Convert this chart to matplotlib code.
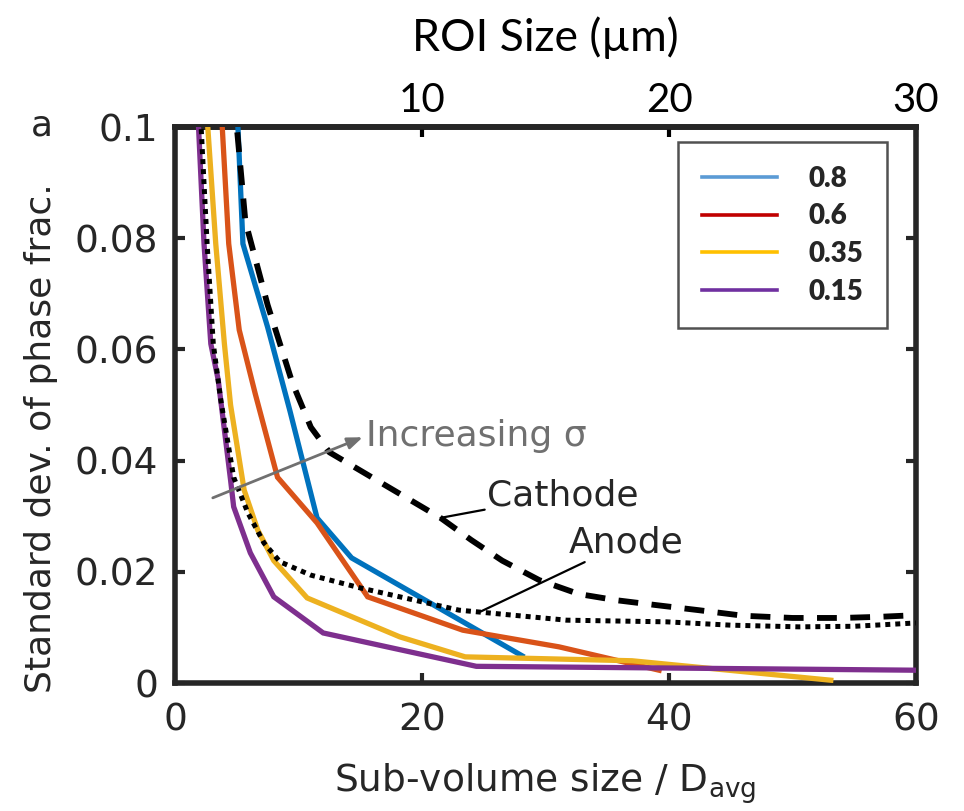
import matplotlib
matplotlib.use("Agg")
import matplotlib.pyplot as plt
from matplotlib.lines import Line2D

# ---------------- data ----------------
x_08 = [5.0, 5.5, 7.5, 9.3, 11.5, 14.3, 28.1]
y_08 = [0.105, 0.079, 0.064, 0.049, 0.0297, 0.0225, 0.0049]

x_06 = [3.7, 4.35, 5.2, 6.5, 8.3, 11.5, 15.6, 23.3, 31.1, 39.2]
y_06 = [0.105, 0.079, 0.0635, 0.052, 0.037, 0.0288, 0.0155, 0.0095, 0.0065, 0.0023]

x_035 = [2.5, 3.3, 4.0, 4.5, 5.6, 6.7, 8.0, 10.7, 18.2, 23.5, 37.0, 53.1]
y_035 = [0.105, 0.079, 0.061, 0.050, 0.0347, 0.0275, 0.022, 0.0153, 0.0083, 0.0047, 0.0040, 0.0005]

x_015 = [1.8, 2.35, 2.9, 3.5, 4.5, 4.75, 6.1, 8.0, 12.0, 24.4, 60.0]
y_015 = [0.105, 0.079, 0.061, 0.0545, 0.0365, 0.0317, 0.0234, 0.0155, 0.009, 0.003, 0.0023]

x_cath = [4.8, 5.7, 7.5, 9.5, 11.0, 12.5, 21.5, 24.0, 26.5, 29.5, 32.7, 35.7, 39.0, 42.4, 46.0, 50.0, 54.0, 57.0, 60.0]
y_cath = [0.105, 0.083, 0.068, 0.054, 0.046, 0.0415, 0.0297, 0.0257, 0.022, 0.0185, 0.016, 0.0149, 0.014,
          0.0131, 0.0121, 0.0117, 0.0117, 0.0119, 0.0122]

x_anode = [2.0, 2.6, 3.1, 3.7, 4.75, 5.9, 7.2, 8.5, 11.0, 15.0, 18.2, 23.0, 31.7, 39.8, 45.0, 50.5, 55.0, 60.0]
y_anode = [0.105, 0.079, 0.061, 0.051, 0.037, 0.0306, 0.0252, 0.0218, 0.0194, 0.0171, 0.0155, 0.0131,
           0.0113, 0.011, 0.0104, 0.0101, 0.0102, 0.0108]

legend_labels = ["0.8", "0.6", "0.35", "0.15"]
line_colors = ["#0072BD", "#D95319", "#EDB120", "#7E2F8E"]
legend_colors = ["#5B9BD5", "#C00000", "#FFC000", "#7030A0"]

x_ticks = [0, 20, 40, 60]
y_ticks = [0, 0.02, 0.04, 0.06, 0.08, 0.1]
y_ticklabels = ["0", "0.02", "0.04", "0.06", "0.08", "0.1"]
roi_ticks = [10, 20, 30]

# ---------------- figure ----------------
W, H = 964, 811
fig = plt.figure(figsize=(W / 100, H / 100), dpi=100)
L, R, T, B = 175, 916, 127, 683
ax = fig.add_axes([L / W, 1 - B / H, (R - L) / W, (B - T) / H])

dark = "#262626"
lw = 3.8
dash_style = (0, (3.4, 2.3))
dot_style = (0, (1, 1))

series = [(x_08, y_08), (x_06, y_06), (x_035, y_035), (x_015, y_015)]
for (xs, ys), c in zip(series, line_colors):
    ax.plot(xs, ys, color=c, lw=lw, solid_joinstyle="miter", zorder=3)
ax.plot(x_cath, y_cath, color="black", lw=4.2, linestyle=dash_style, zorder=4)
ax.plot(x_anode, y_anode, color="black", lw=3.6, linestyle=dot_style, zorder=4)

ax.set_xlim(0, 60)
ax.set_ylim(0, 0.1)
ax.set_xticks(x_ticks)
ax.set_yticks(y_ticks)
ax.set_yticklabels(y_ticklabels)

for s in ax.spines.values():
    s.set_linewidth(4.0)
    s.set_color(dark)

ax.tick_params(axis="both", direction="in", length=7, width=3, colors=dark,
               labelsize=27, labelcolor=dark)
ax.tick_params(axis="x", top=False, pad=14)
ax.tick_params(axis="y", right=True, pad=12)

# top ROI axis
sec = ax.secondary_xaxis("top", functions=(lambda x: x / 2.0, lambda x: x * 2.0))
sec.set_xticks(roi_ticks)
sec.tick_params(direction="in", length=7, width=3, colors="black", labelsize=29, pad=6)
for lab in sec.get_xticklabels():
    lab.set_fontfamily("Lato")
sec.spines["top"].set_linewidth(4.0)
sec.spines["top"].set_color("black")
sec.set_xlabel("ROI Size (µm)", fontsize=32, family="Lato", labelpad=22, color="black")

# axis labels
fig.text(545 / W, 1 - 792 / H, r"Sub-volume size / D$_{\mathregular{avg}}$",
         ha="center", va="baseline", fontsize=27, color=dark)
fig.text(41 / W, 1 - 438 / H, "Standard dev. of phase frac.", rotation=90,
         ha="center", va="center", fontsize=26, color=dark)
fig.text(42 / W, 1 - 135 / H, "a", ha="center", va="baseline", fontsize=26, color=dark)

# annotations
ax.annotate("", xy=(15.2, 0.0442), xytext=(3.06, 0.0333),
            arrowprops=dict(arrowstyle="-|>,head_length=0.9,head_width=0.35",
                            color="#707070", lw=2.0, shrinkA=0, shrinkB=0), zorder=5)
ax.text(15.5, 0.0444, "Increasing σ", color="#707070", fontsize=26, ha="left", va="center")

ax.annotate("Cathode", xy=(21.5, 0.0297), xytext=(25.3, 0.0338),
            fontsize=26, color=dark, ha="left", va="center",
            arrowprops=dict(arrowstyle="-", color="black", lw=1.6, shrinkA=0, shrinkB=0))
ax.annotate("Anode", xy=(24.7, 0.0128), xytext=(31.9, 0.0253),
            fontsize=26, color=dark, ha="left", va="center",
            arrowprops=dict(arrowstyle="-", color="black", lw=1.6, shrinkA=0, shrinkB=0))

# legend
handles = [Line2D([0], [0], color=c, lw=2.6) for c in legend_colors]
leg = ax.legend(handles, legend_labels, loc="upper right",
                bbox_to_anchor=(887 / W, 1 - 142 / H), bbox_transform=fig.transFigure,
                borderaxespad=0, fancybox=False, frameon=True,
                prop={"family": "Lato", "weight": "heavy", "size": 20},
                handlelength=2.7, handletextpad=1.15, labelspacing=0.42,
                borderpad=0.85)
leg.get_frame().set_edgecolor(dark)
leg.get_frame().set_linewidth(1.8)
for t in leg.get_texts():
    t.set_color(dark)

fig.savefig("out.png", dpi=100)
